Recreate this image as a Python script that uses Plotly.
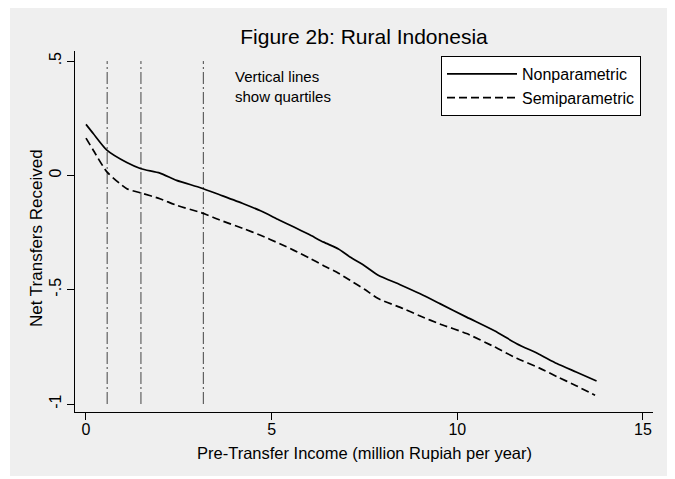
import plotly.graph_objects as go

# Data
nonpar_x = [0.0, 0.2, 0.57, 1.10, 1.48, 1.99, 2.44, 3.10, 3.60, 4.24, 4.70, 5.20, 5.60, 6.00, 6.40, 6.80, 7.11, 7.50, 7.87, 8.46, 9.00, 9.53, 10.25, 11.00, 11.60, 12.20, 12.68, 13.20, 13.75]
nonpar_y = [0.223, 0.182, 0.109, 0.056, 0.029, 0.010, -0.022, -0.055, -0.085, -0.124, -0.155, -0.195, -0.226, -0.258, -0.292, -0.322, -0.357, -0.395, -0.437, -0.478, -0.518, -0.561, -0.620, -0.680, -0.736, -0.782, -0.823, -0.860, -0.899]

semi_x = [0.0, 0.2, 0.57, 1.10, 1.48, 1.99, 2.44, 3.10, 3.60, 4.24, 4.70, 5.22, 5.60, 6.00, 6.39, 6.80, 7.11, 7.50, 7.87, 8.55, 9.00, 9.53, 10.25, 11.00, 11.60, 12.20, 12.68, 13.20, 13.71]
semi_y = [0.163, 0.109, 0.014, -0.058, -0.077, -0.102, -0.131, -0.163, -0.195, -0.233, -0.262, -0.299, -0.328, -0.360, -0.394, -0.428, -0.459, -0.498, -0.539, -0.583, -0.615, -0.650, -0.692, -0.750, -0.800, -0.842, -0.880, -0.920, -0.962]

quartiles = [0.57, 1.48, 3.16]
quartile_span = [-1.0, 0.5]

x_ticks = [0, 5, 10, 15]
y_ticks = [-1, -0.5, 0, 0.5]
y_tick_labels = ["-1", "-.5", "0", ".5"]

FONT = "Liberation Sans, Arial, sans-serif"

# page body has an 8px margin; figure coordinates are offset accordingly
L, T, PW, PH = 67, 43, 578, 361
W, H = 675, 479

fig = go.Figure()

for q in quartiles:
    fig.add_trace(go.Scatter(
        x=[q, q], y=quartile_span, mode="lines",
        line=dict(color="#444444", width=1, dash="12px,3px,2px,3px"),
        showlegend=False, hoverinfo="skip"))

fig.add_trace(go.Scatter(
    x=nonpar_x, y=nonpar_y, mode="lines", name="Nonparametric",
    line=dict(color="black", width=1.7, shape="spline", smoothing=0.6)))

fig.add_trace(go.Scatter(
    x=semi_x, y=semi_y, mode="lines", name="Semiparametric",
    line=dict(color="black", width=1.7, dash="8px,4px", shape="spline", smoothing=0.6)))

# gray outer background (page px 10..669 x 5..476)
def px_x(p):
    return (p - 8 - L) / PW

def px_y(p):
    return (T + PH - (p - 8)) / PH

fig.add_shape(type="rect", xref="paper", yref="paper",
              x0=px_x(10), x1=px_x(669), y0=px_y(476), y1=px_y(0),
              fillcolor="#efefef", line=dict(width=0), layer="below")

fig.add_annotation(text="Vertical lines<br>show quartiles", xref="paper", yref="paper",
                   x=px_x(233), y=px_y(66), xanchor="left", yanchor="top", align="left",
                   showarrow=False, font=dict(family=FONT, size=15, color="black"))

fig.add_annotation(text="Pre-Transfer Income (million Rupiah per year)",
                   xref="paper", yref="paper", x=0.5, y=px_y(453),
                   xanchor="center", yanchor="middle", showarrow=False,
                   font=dict(family=FONT, size=16.5, color="black"))

fig.add_annotation(text="Net Transfers Received", textangle=-90,
                   xref="paper", yref="paper", x=px_x(37), y=px_y(238),
                   xanchor="center", yanchor="middle", showarrow=False,
                   font=dict(family=FONT, size=17, color="black"))

fig.update_layout(
    width=W, height=H,
    margin=dict(l=L, r=W - L - PW, t=T, b=H - T - PH, autoexpand=False),
    paper_bgcolor="white", plot_bgcolor="white",
    font=dict(family=FONT, size=16, color="black"),
    title=dict(text="Figure 2b: Rural Indonesia", x=0.5, xref="paper",
               y=1 - (37 - 8) / H, yref="container", yanchor="middle",
               font=dict(family=FONT, size=21, color="black")),
    legend=dict(x=px_x(441), y=px_y(56), xanchor="left", yanchor="top",
                bgcolor="white", bordercolor="black", borderwidth=1,
                font=dict(family=FONT, size=16, color="black"),
                tracegroupgap=0, itemwidth=70),
    showlegend=True,
    xaxis=dict(range=[-0.296, 15.27], tickvals=x_ticks, ticks="outside",
               ticklen=7, tickcolor="black", showline=True, linecolor="black",
               linewidth=1, showgrid=False, zeroline=False, automargin=False,
               ticklabelstandoff=-4),
    yaxis=dict(range=[-1.035, 0.544], tickvals=y_ticks, ticktext=y_tick_labels,
               tickangle=-90, ticks="outside", ticklen=7, tickcolor="black",
               showline=True, linecolor="black", linewidth=1, showgrid=False,
               zeroline=False, automargin=False),
)

fig.write_html("out.html")
